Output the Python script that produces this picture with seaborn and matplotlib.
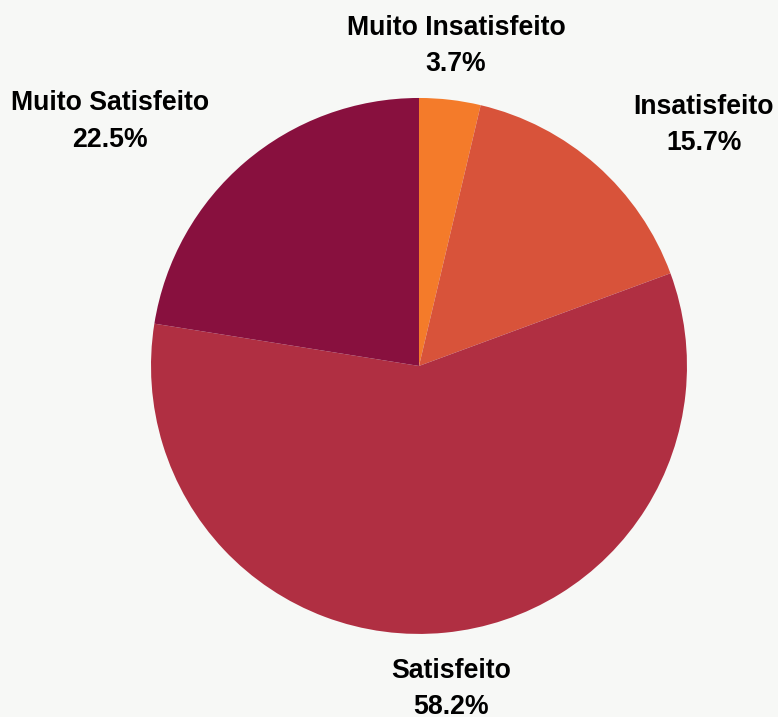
import matplotlib
matplotlib.use("Agg")
import matplotlib.pyplot as plt
import seaborn as sns

# --- Dados ---
categorias = ["Muito Insatisfeito", "Insatisfeito", "Satisfeito", "Muito Satisfeito"]
percentuais = [3.7, 15.7, 58.2, 22.5]
cores = ["#F47B2A", "#D8533A", "#B02F42", "#88103E"]

# posição dos rótulos (coordenadas do eixo, raio = 1)
pos_rotulos = [(0.138, 1.194), (1.063, 0.899), (0.119, -1.206), (-1.153, 0.912)]

sns.set_theme(style="white")
plt.rcParams["font.family"] = ["Liberation Sans", "DejaVu Sans"]

bg = "#F7F8F6"
fig = plt.figure(figsize=(7.78, 7.17), dpi=100, facecolor=bg)
ax = fig.add_axes([0.1941, 0.1158, 0.6889, 0.7476])
ax.set_facecolor(bg)

ax.pie(percentuais, colors=cores, startangle=90, counterclock=False,
       radius=1, wedgeprops=dict(linewidth=0))

for cat, pct, (x, y) in zip(categorias, percentuais, pos_rotulos):
    ax.text(x, y, f"{cat}\n{pct:.1f}%", ha="center", va="center",
            fontsize=19.2, fontweight="bold", color="black", linespacing=1.52,
            clip_on=False)

ax.set_xlim(-1, 1)
ax.set_ylim(-1, 1)
ax.set_aspect("equal")
ax.axis("off")

fig.savefig("out.png", dpi=100, facecolor=bg)
